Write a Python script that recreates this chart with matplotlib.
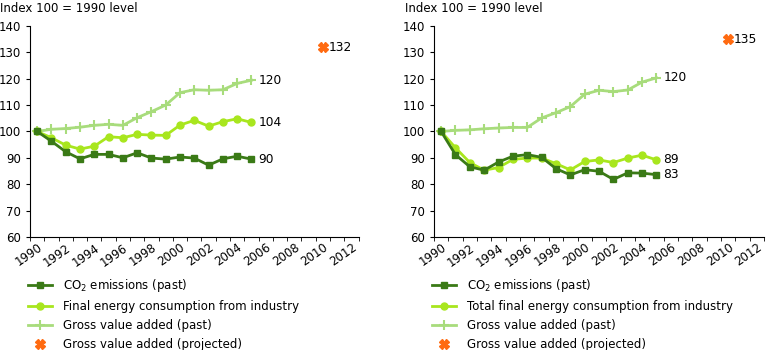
import matplotlib.pyplot as plt
import numpy as np

plt.rcParams['font.family'] = ['DejaVu Sans']

years = list(range(1990, 2006))
proj_year = 2010

# left panel
co2_left = [100, 96.3, 92.3, 89.6, 91.3, 91.3, 90.0, 91.9, 89.9, 89.5, 90.3, 89.9, 87.2, 89.6, 90.6, 89.5]
energy_left = [100, 97.6, 94.8, 93.3, 94.4, 98.0, 97.6, 98.9, 98.6, 98.5, 102.4, 104.2, 102.0, 103.7, 104.8, 103.4]
gva_left = [100, 100.8, 101.1, 101.6, 102.3, 102.7, 102.3, 105.2, 107.5, 110.0, 114.7, 115.8, 115.6, 115.8, 118.2, 119.4]
proj_left = 132
labels_left = {'co2': '90', 'energy': '104', 'gva': '120', 'proj': '132'}
energy_name_left = 'Final energy consumption from industry'

# right panel
co2_right = [100, 91.2, 86.6, 85.3, 88.4, 90.6, 91.2, 90.2, 85.9, 83.5, 85.5, 84.9, 81.8, 84.3, 84.2, 83.6]
energy_right = [100, 93.8, 88.2, 85.3, 86.3, 89.4, 89.9, 89.9, 87.8, 85.4, 88.6, 89.2, 88.2, 89.9, 91.0, 89.2]
gva_right = [100, 100.4, 100.6, 101.0, 101.3, 101.5, 101.5, 105.1, 107.1, 109.4, 114.1, 115.6, 115.1, 115.7, 118.7, 120.3]
proj_right = 135
labels_right = {'co2': '83', 'energy': '89', 'gva': '120', 'proj': '135'}
energy_name_right = 'Total final energy consumption from industry'

c_co2 = '#3a7a16'
c_energy = '#a8e61e'
c_gva = '#a8dc7c'
c_proj = '#ff6a10'
fs = 8.5

fig = plt.figure(figsize=(7.68, 3.5), dpi=100)
ax1 = fig.add_axes([0.039, 0.323, 0.428, 0.603])
ax2 = fig.add_axes([0.565, 0.323, 0.430, 0.603])


def draw(ax, co2, energy, gva, proj, labels, energy_name):
    ax.plot(years, gva, color=c_gva, lw=2, marker='+', ms=7, mew=1.5, label='Gross value added (past)', zorder=2)
    ax.plot(years, energy, color=c_energy, lw=2, marker='o', ms=5, label=energy_name, zorder=3)
    ax.plot(years, co2, color=c_co2, lw=2, marker='s', ms=4, label='CO$_2$ emissions (past)', zorder=4)
    ax.plot([proj_year], [proj], ls='none', color=c_proj, marker='X', ms=7,
            label='Gross value added (projected)', zorder=5)

    for key, ser in [('co2', co2), ('energy', energy), ('gva', gva)]:
        ax.annotate(labels[key], (years[-1], ser[-1]), xytext=(5, 0), textcoords='offset points',
                    va='center', fontsize=fs + 0.3)
    ax.annotate(labels['proj'], (proj_year, proj), xytext=(4, 0), textcoords='offset points',
                va='center', fontsize=fs + 0.3)

    ax.set_xlim(1989.6, 2012.5)
    ax.set_ylim(60, 140)
    ax.set_yticks(np.arange(60, 141, 10))
    ax.set_xticks(np.arange(1990, 2013, 2))
    ax.set_xticks(np.arange(1989.5, 2013, 1), minor=True)
    ax.tick_params(axis='x', which='major', length=0, labelsize=fs, pad=3)
    ax.tick_params(axis='x', which='minor', length=3, direction='out')
    ax.tick_params(axis='y', length=3, labelsize=fs)
    for lab in ax.get_xticklabels():
        lab.set_rotation(35)
        lab.set_ha('right')
        lab.set_va('top')
        lab.set_rotation_mode('anchor')
    for s in ['top', 'right']:
        ax.spines[s].set_visible(False)

    h, l = ax.get_legend_handles_labels()
    order = [2, 1, 0, 3]
    ax.legend([h[i] for i in order], [l[i] for i in order], loc='upper left',
              bbox_to_anchor=(-0.005, -0.19), frameon=False, fontsize=fs,
              handlelength=2.0, handletextpad=0.9, labelspacing=0.5,
              borderpad=0, borderaxespad=0)


draw(ax1, co2_left, energy_left, gva_left, proj_left, labels_left, energy_name_left)
draw(ax2, co2_right, energy_right, gva_right, proj_right, labels_right, energy_name_right)

fig.text(0.0, 0.977, 'Index 100 = 1990 level', fontsize=fs, va='center', ha='left')
fig.text(0.527, 0.977, 'Index 100 = 1990 level', fontsize=fs, va='center', ha='left')

fig.savefig('out.png', dpi=100)
